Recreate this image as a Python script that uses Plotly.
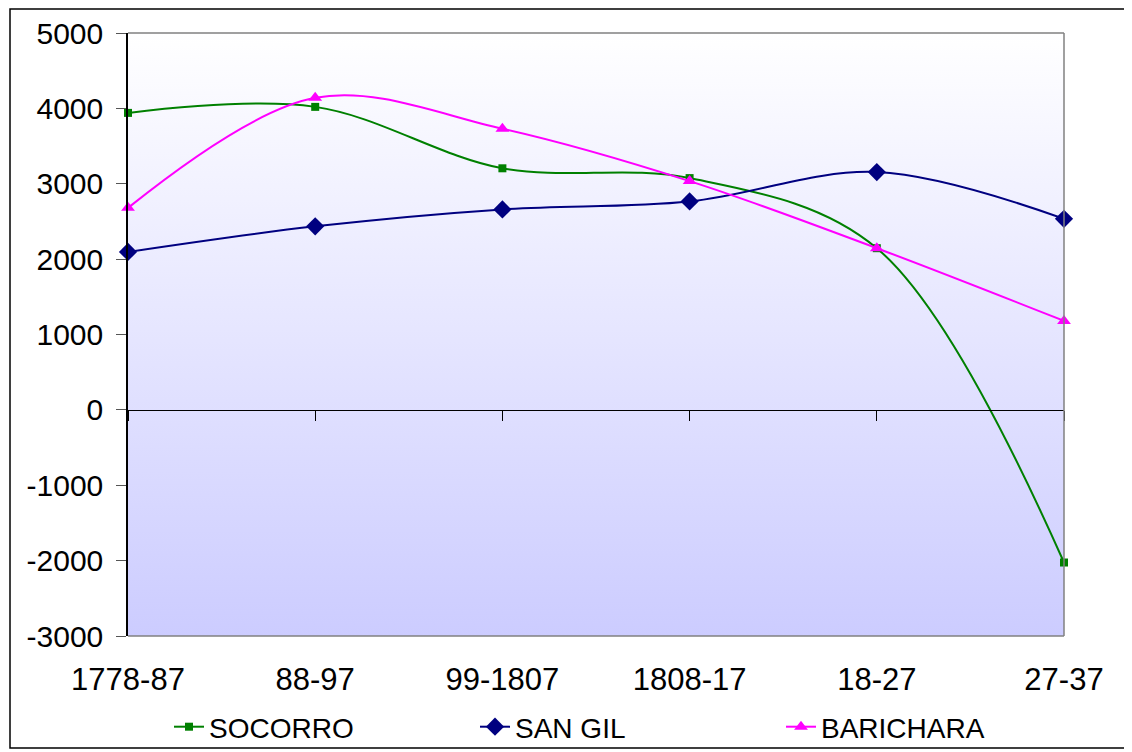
import plotly.graph_objects as go

categories = ["1778-87", "88-97", "99-1807", "1808-17", "18-27", "27-37"]
socorro = [3940, 4020, 3205, 3075, 2145, -2025]
san_gil = [2095, 2435, 2660, 2765, 3155, 2535]
baricharra = [2680, 4140, 3730, 3035, 2145, 1180]
y_ticks = [-3000, -2000, -1000, 0, 1000, 2000, 3000, 4000, 5000]
y_tick_labels = ["-3000", "-2000", "-1000", "0", "1000", "2000", "3000", "4000", "5000"]

xs = list(range(len(categories)))
FONT = "Liberation Sans, Arial, sans-serif"
Y0, Y1 = -3000, 5000
X0, X1 = 0, len(categories) - 1

fig = go.Figure()

# plot-area gradient background
fig.add_trace(go.Scatter(
    x=[X0, X1, X1, X0, X0], y=[Y1, Y1, Y0, Y0, Y1], mode="lines",
    line=dict(width=0), fill="toself",
    fillgradient=dict(type="vertical", start=Y0, stop=Y1,
                      colorscale=[[0, "#ccccff"], [1, "#ffffff"]]),
    showlegend=False, hoverinfo="skip"))

series = [
    ("SOCORRO", socorro, "#008000", "square", 8),
    ("SAN GIL", san_gil, "#000080", "diamond", 14),
    ("BARICHARA", baricharra, "#ff00ff", "triangle-up", 12),
]
for name, vals, col, sym, sz in series:
    fig.add_trace(go.Scatter(
        x=xs, y=vals, name=name, mode="lines+markers",
        line=dict(color=col, width=2, shape="spline", smoothing=1.0),
        marker=dict(symbol=sym, size=sz, color=col),
        cliponaxis=False))

# invisible anchor so the category axis crossing at zero is drawn
fig.add_trace(go.Scatter(
    x=xs, y=[0] * len(xs), xaxis="x2", mode="markers",
    marker=dict(opacity=0), showlegend=False, hoverinfo="skip"))

# page pixel -> paper coordinates (page has an 8px body offset)
def px_x(p):
    return (p - 128) / 936.0

def px_y(p):
    return (636 - p) / 603.0

shapes = [
    dict(type="line", xref="paper", yref="paper", x0=0, x1=1, y0=1, y1=1,
         line=dict(color="#808080", width=1.5)),
    dict(type="line", xref="paper", yref="paper", x0=1, x1=1, y0=0, y1=1,
         line=dict(color="#808080", width=1.5)),
    dict(type="line", xref="paper", yref="paper", x0=0, x1=1, y0=0, y1=0,
         line=dict(color="#808080", width=1.5)),
    dict(type="rect", xref="paper", yref="paper",
         x0=px_x(10), x1=px_x(1128), y0=px_y(748), y1=px_y(9),
         line=dict(color="#000000", width=1.5)),
    dict(type="line", xref="paper", yref="paper",
         x0=px_x(1130), x1=px_x(1130), y0=px_y(750), y1=px_y(12),
         line=dict(color="#000000", width=3)),
]

fig.update_layout(
    width=1124, height=744,
    margin=dict(l=120, r=68, t=25, b=116, autoexpand=False),
    paper_bgcolor="#ffffff", plot_bgcolor="rgba(0,0,0,0)",
    font=dict(family=FONT, size=28, color="#000000"),
    showlegend=True,
    legend=dict(orientation="h", x=px_x(169), xanchor="left",
                y=px_y(727), yanchor="middle",
                entrywidth=261, entrywidthmode="pixels",
                font=dict(family=FONT, size=28, color="#000000"),
                bgcolor="rgba(0,0,0,0)"),
    xaxis=dict(range=[X0, X1], tickvals=xs, ticktext=categories,
               showgrid=False, zeroline=False, showline=False, ticks="",
               automargin=False,
               tickfont=dict(family=FONT, size=31), ticklabelstandoff=22),
    xaxis2=dict(overlaying="x", anchor="free", position=(0 - Y0) / (Y1 - Y0),
                range=[X0, X1], tickvals=xs, showticklabels=False,
                showgrid=False, zeroline=False, showline=True,
                automargin=False,
                linecolor="#000000", linewidth=1, ticks="outside",
                ticklen=10, tickcolor="#000000", side="bottom"),
    yaxis=dict(range=[Y0, Y1], tickvals=y_ticks, ticktext=y_tick_labels,
               showgrid=False, zeroline=False, showline=True,
               automargin=False,
               linecolor="#000000", linewidth=1.5,
               ticks="outside", ticklen=10, tickcolor="#555555",
               tickfont=dict(family=FONT, size=30), ticklabelstandoff=7),
    shapes=shapes,
)

fig.write_html("out.html")
